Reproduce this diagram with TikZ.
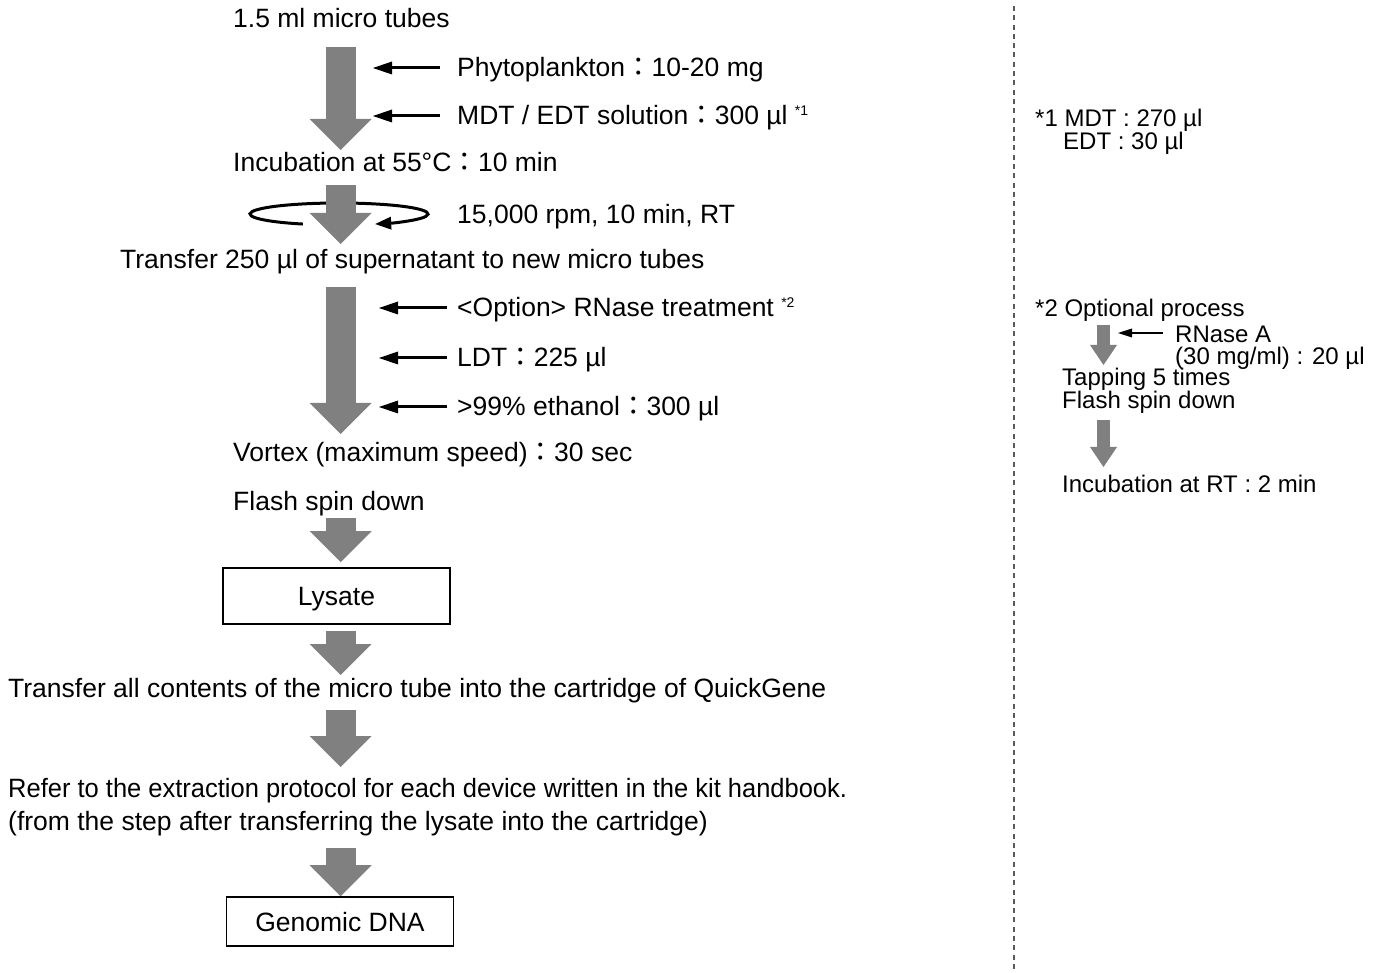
\documentclass[tikz,border=0pt]{standalone}
\usepackage{fontspec}
\setmainfont{Liberation Sans}
\newfontfamily\cjkfont{Noto Sans CJK JP}
\usetikzlibrary{arrows.meta,calc}
\definecolor{flowgray}{RGB}{128,128,128}
\definecolor{rulegray}{RGB}{90,90,90}
\newcommand{\mainsize}{\fontsize{26.5}{32}\selectfont}
\newcommand{\notesize}{\fontsize{24}{21}\selectfont}
\newcommand{\fwc}{{\cjkfont ：}}
\newcommand{\fnmark}[1]{\raisebox{9pt}{\fontsize{14}{14}\selectfont #1}}

\begin{document}
\begin{tikzpicture}[
  x=1pt,y=1pt,
  txt/.style={inner sep=0pt,anchor=base west,font=\mainsize},
  note/.style={inner sep=0pt,anchor=base west,font=\notesize},
  result/.style={draw,line width=1.6pt,minimum width=227pt,inner sep=0pt,
    text depth=0pt,font=\mainsize},
  flow/.style={flowgray,line width=30pt,-{Triangle[length=31pt,width=62pt,line width=0pt]}},
  subflow/.style={flowgray,line width=13pt,-{Triangle[length=20pt,width=27pt,line width=0pt]}},
  add/.style={line width=3pt,-{Triangle[length=19pt,width=13pt,line width=0pt]}},
  subadd/.style={line width=2pt,-{Triangle[length=14pt,width=9pt,line width=0pt]}},
  spinline/.style={line width=3pt,-{Triangle[length=16pt,width=13pt,line width=0pt]}},
  divider/.style={rulegray,line width=1.6pt,dash pattern=on 5pt off 4.3pt}
]
\useasboundingbox (0,0) rectangle (1382,-973);

\coordinate (col) at (340.7,0);
\coordinate (subcol) at (1103.5,0);
\coordinate (spinc) at (339,-214);
\coordinate (ruletop) at (1014,-6);
\coordinate (rulebot) at (1014,-972);

\node[txt] (tubes) at (233,-28) {1.5 ml micro tubes};
\node[txt] (phyto) at (457,-77) {Phytoplankton\fwc10-20 mg};
\node[txt] (mdt) at (457,-125) {MDT / EDT solution\fwc300 µl \fnmark{*1}};
\node[txt] (incub) at (233,-172) {Incubation at 55°C\fwc10 min};
\node[txt] (spin) at (457,-224) {15,000 rpm, 10 min, RT};
\node[txt] (sup) at (120,-269) {Transfer 250 µl of supernatant to new micro tubes};
\node[txt] (rnase) at (457,-317) {<Option> RNase treatment \fnmark{*2}};
\node[txt] (ldt) at (457,-367) {LDT\fwc225 µl};
\node[txt] (etoh) at (457,-416) {>99\% ethanol\fwc300 µl};
\node[txt] (vortex) at (233,-462) {Vortex (maximum speed)\fwc30 sec};
\node[txt] (flash) at (233,-510) {Flash spin down};
\node[result,minimum height=56pt] (lysate) at (336.5,-596) {Lysate};
\node[txt] (load) at (8,-697)
  {Transfer all contents of the micro tube into the cartridge of QuickGene};
\node[txt] (refer) at (8,-797)
  {\scalebox{0.962}[1]{Refer to the extraction protocol for each device written in the kit handbook.}};
\node[txt] (after) at (8,-830)
  {(from the step after transferring the lysate into the cartridge)};
\node[result,minimum height=49pt] (dna) at (340,-921.5) {Genomic DNA};

\node[note] (fn1) at (1035,-127) {*1 MDT : 270 µl};
\node[note] (fn1b) at (1063,-150) {EDT : 30 µl};
\node[note] (fn2) at (1035,-317) {*2 Optional process};
\node[note] (enz) at (1175,-343) {RNase A};
\node[note] (enzc) at (1175,-365) {(30 mg/ml) : 20 µl};
\node[note] (tap) at (1062,-386) {Tapping 5 times};
\node[note] (fsd) at (1062,-409) {Flash spin down};
\node[note] (rt) at (1062,-493) {Incubation at RT : 2 min};

\draw[flow] ($(tubes.base -| col)+(0,-19)$) -- ($(incub.base -| col)+(0,22)$);
\draw[add] ($(phyto.base west)+(-17,9)$) -- ($(phyto.base west)+(-84,9)$);
\draw[add] ($(mdt.base west)+(-17,9)$) -- ($(mdt.base west)+(-84,9)$);

\draw[spinline] (spinc) ++(246:89 and 11)
  arc[start angle=246,end angle=-66,x radius=89,y radius=11];
\draw[flow] ($(incub.base -| col)+(0,-13)$) -- ($(sup.base -| col)+(0,25)$);

\draw[flow] ($(sup.base -| col)+(0,-18)$) -- ($(vortex.base -| col)+(0,28)$);
\draw[add] ($(rnase.base west)+(-10,9)$) -- ($(rnase.base west)+(-78,9)$);
\draw[add] ($(ldt.base west)+(-10,9)$) -- ($(ldt.base west)+(-78,9)$);
\draw[add] ($(etoh.base west)+(-10,9)$) -- ($(etoh.base west)+(-78,9)$);

\draw[flow] ($(flash.base -| col)+(0,-8)$) -- ($(lysate.north -| col)+(0,5)$);
\draw[flow] ($(lysate.south -| col)+(0,-6)$) -- ($(load.base -| col)+(0,22)$);
\draw[flow] ($(load.base -| col)+(0,-13)$) -- ($(refer.base -| col)+(0,30)$);
\draw[flow] ($(after.base -| col)+(0,-18)$) -- (dna.north -| col);

\draw[subflow] ($(fn2.base -| subcol)+(0,-8)$) -- ($(tap.base -| subcol)+(0,21)$);
\draw[subadd] ($(enz.base west)+(-12,10)$) -- ($(enz.base west)+(-57,10)$);
\draw[subflow] ($(fsd.base -| subcol)+(0,-11)$) -- ($(rt.base -| subcol)+(0,26)$);

\draw[divider] (ruletop) -- (rulebot);
\end{tikzpicture}
\end{document}
